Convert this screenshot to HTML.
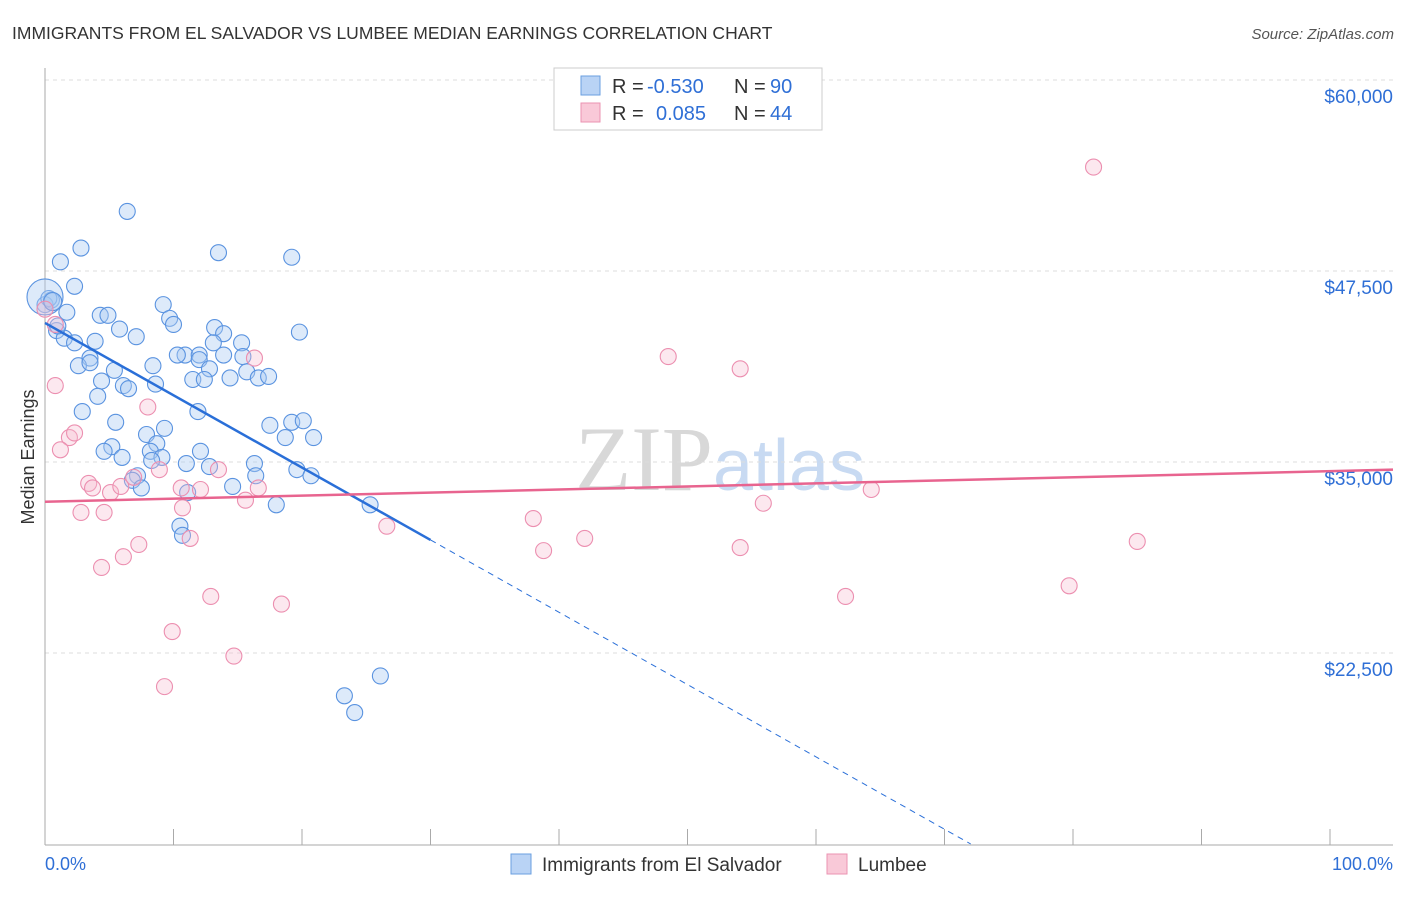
<!DOCTYPE html>
<html><head><meta charset="utf-8"><style>
body{margin:0;background:#fff;font-family:"Liberation Sans",sans-serif;}
svg text{font-family:"Liberation Sans",sans-serif;}
</style></head><body>
<svg id="chart" width="1406" height="892" xmlns="http://www.w3.org/2000/svg">
<text x="12" y="39" font-size="17.5" fill="#333">IMMIGRANTS FROM EL SALVADOR VS LUMBEE MEDIAN EARNINGS CORRELATION CHART</text>
<text x="1394" y="39" font-size="15" fill="#555" text-anchor="end" font-style="italic">Source: ZipAtlas.com</text>
<text x="720" y="490" font-size="92" text-anchor="middle"><tspan fill="#d8d8d8" font-family="Liberation Serif">ZIP</tspan><tspan fill="#c8daf2" font-size="72">atlas</tspan></text>
<g id="grid"></g>
<g id="axes"></g>
<g id="pts"></g>
<g id="trends"></g>
<text transform="translate(34,457) rotate(-90)" font-size="18" fill="#333" text-anchor="middle">Median Earnings</text>
<g>
<rect x="554" y="68" width="268" height="62" fill="#fff" stroke="#ccc"/>
<rect x="581" y="76" width="19" height="19" fill="#b9d3f5" stroke="#6a9fe0"/>
<rect x="581" y="103" width="19" height="19" fill="#f9c9d8" stroke="#eb93b2"/>
<text x="612" y="93" font-size="20" fill="#333">R =</text>
<text x="647" y="93" font-size="20" fill="#2f6fd6">-0.530</text>
<text x="734" y="93" font-size="20" fill="#333">N =</text>
<text x="770" y="93" font-size="20" fill="#2f6fd6">90</text>
<text x="612" y="120" font-size="20" fill="#333">R =</text>
<text x="656" y="120" font-size="20" fill="#2f6fd6">0.085</text>
<text x="734" y="120" font-size="20" fill="#333">N =</text>
<text x="770" y="120" font-size="20" fill="#2f6fd6">44</text>
</g>
<g>
<rect x="511" y="854" width="20" height="20" fill="#b9d3f5" stroke="#6a9fe0"/>
<text x="542" y="871" font-size="19" fill="#333">Immigrants from El Salvador</text>
<rect x="827" y="854" width="20" height="20" fill="#f9c9d8" stroke="#eb93b2"/>
<text x="858" y="871" font-size="19" fill="#333">Lumbee</text>
</g>
<text x="45" y="870" font-size="18" fill="#2f6fd6">0.0%</text>
<text x="1393" y="870" font-size="18" fill="#2f6fd6" text-anchor="end">100.0%</text>
</svg>
<script>
const yTicks=[60000,47500,35000,22500];
const yTickLabels=["$60,000","$47,500","$35,000","$22,500"];
const blueX=[6.4,2.8,1.2,13.5,19.2,2.3,0.5,0,1.7,4.3,4.9,9.2,9.7,10.0,13.2,13.9,19.8,0.9,1.5,5.8,7.1,3.9,2.3,10.9,10.3,12.0,13.1,15.3,3.5,2.6,5.4,8.4,12.0,13.9,15.4,12.8,15.7,4.4,11.5,12.4,14.4,16.6,17.4,6.1,6.5,8.6,4.1,2.9,11.9,5.5,7.9,9.3,17.5,19.2,20.1,18.7,20.9,5.2,4.6,8.7,8.2,12.1,6.0,9.1,11.0,12.8,16.3,16.4,19.6,20.7,7.2,6.8,7.5,14.6,11.1,18.0,25.3,10.5,10.7,23.3,24.1,26.1,0.3,8.3,3.5,0,0.6,1.0];
const blueY=[51.4,49.0,48.1,48.7,48.4,46.5,45.6,45.3,44.8,44.6,44.6,45.3,44.4,44.0,43.8,43.4,43.5,43.6,43.1,43.7,43.2,42.9,42.8,42.0,42.0,42.0,42.8,42.8,41.8,41.3,41.0,41.3,41.7,42.0,41.9,41.1,40.9,40.3,40.4,40.4,40.5,40.5,40.6,40.0,39.8,40.1,39.3,38.3,38.3,37.6,36.8,37.2,37.4,37.6,37.7,36.6,36.6,36.0,35.7,36.2,35.7,35.7,35.3,35.3,34.9,34.7,34.9,34.1,34.5,34.1,34.1,33.8,33.3,33.4,33.0,32.2,32.2,30.8,30.2,19.7,18.6,21.0,45.7,35.1,41.5,45.8,45.5,43.9];
const blueR=[8,8,8,8,8,8,8,8,8,8,8,8,8,8,8,8,8,8,8,8,8,8,8,8,8,8,8,8,8,8,8,8,8,8,8,8,8,8,8,8,8,8,8,8,8,8,8,8,8,8,8,8,8,8,8,8,8,8,8,8,8,8,8,8,8,8,8,8,8,8,8,8,8,8,8,8,8,8,8,8,8,8,8,8,8,18,9,8];
const pinkX=[81.6,48.5,54.1,16.3,0.8,8.0,1.9,2.3,1.2,8.9,13.5,3.4,3.7,5.1,5.9,6.9,10.6,12.1,16.6,15.6,10.7,2.8,4.6,38.0,55.9,64.3,26.6,11.3,7.3,42.0,38.8,54.1,85.0,6.1,4.4,79.7,62.3,12.9,18.4,9.9,14.7,9.3,0,0.8];
const pinkY=[54.3,41.9,41.1,41.8,40.0,38.6,36.6,36.9,35.8,34.5,34.5,33.6,33.3,33.0,33.4,34.0,33.3,33.2,33.3,32.5,32.0,31.7,31.7,31.3,32.3,33.2,30.8,30.0,29.6,30.0,29.2,29.4,29.8,28.8,28.1,26.9,26.2,26.2,25.7,23.9,22.3,20.3,45.0,44.0];
const blueTrend=[44.1,29.9];
const pinkTrend=[32.4,34.4];

const NS="http://www.w3.org/2000/svg";
const X=p=>45+p*12.85;
const Y=v=>80+(60000-v)*191/12500;
function mk(tag,attrs,parent){const e=document.createElementNS(NS,tag);for(const k in attrs)e.setAttribute(k,attrs[k]);document.getElementById(parent).appendChild(e);return e;}

yTicks.forEach((t,i)=>{
 const l=mk('line',{x1:45,x2:1393,y1:Y(t),y2:Y(t),stroke:'#ddd','stroke-dasharray':'4,4'},'grid');
 
 
 const tx=mk('text',{x:1393,y:Y(t)+23,'font-size':19,fill:'#2f6fd6','text-anchor':'end'},'grid');
 tx.textContent=yTickLabels[i];
 
 
});
let a=mk('line',{x1:45,x2:45,y1:68,y2:845,stroke:'#aaa'},'axes');


a=mk('line',{x1:45,x2:1393,y1:845,y2:845,stroke:'#aaa'},'axes');


for(let i=0;i<=10;i++){
 const t=mk('line',{x1:X(i*10),x2:X(i*10),y1:829,y2:845,stroke:'#aaa'},'axes');
 
 
}
blueX.forEach((x,i)=>{
 const c=mk('circle',{cx:X(x),cy:Y(blueY[i]*1000),r:blueR[i],fill:'rgba(170,202,242,0.4)',stroke:'#5a93e0','stroke-width':1.1},'pts');
 
 
});
pinkX.forEach((x,i)=>{
 const c=mk('circle',{cx:X(x),cy:Y(pinkY[i]*1000),r:8,fill:'rgba(246,190,210,0.35)',stroke:'#ec8fb0','stroke-width':1.1},'pts');
 
 
});
const slope=(blueTrend[1]-blueTrend[0])/30;
const xEnd=(10-blueTrend[0])/slope;
let tl=mk('line',{x1:X(0),y1:Y(blueTrend[0]*1000),x2:X(30),y2:Y(blueTrend[1]*1000),stroke:'#2a6fd8','stroke-width':2.5},'trends');


tl=mk('line',{x1:X(30),y1:Y(blueTrend[1]*1000),x2:X(xEnd),y2:Y(10000),stroke:'#2a6fd8','stroke-width':1,'stroke-dasharray':'6,5'},'trends');


const ps=(pinkTrend[1]-pinkTrend[0])/100;
tl=mk('line',{x1:X(0),y1:Y(pinkTrend[0]*1000),x2:1393,y2:Y((pinkTrend[0]+ps*((1393-45)/12.85))*1000),stroke:'#e8648f','stroke-width':2.5},'trends');


</script>
</body></html>
